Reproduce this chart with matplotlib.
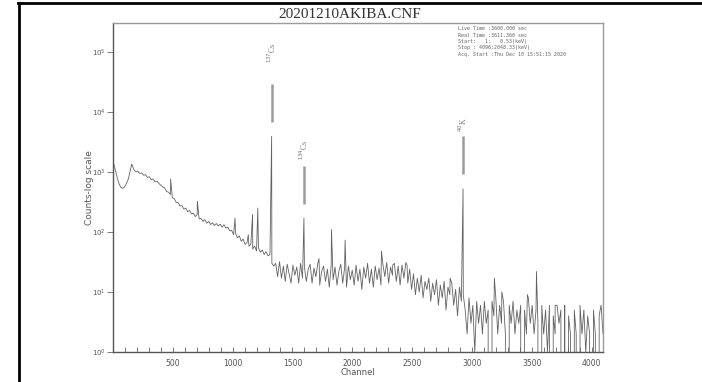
import numpy as np
import matplotlib
matplotlib.use("Agg")
import matplotlib.pyplot as plt
from matplotlib.lines import Line2D
from matplotlib.ticker import MultipleLocator, FixedLocator, NullFormatter

# ---------------- data ----------------
base_step = 16  # channel spacing of the baseline samples

# channels 0 .. 1344
start_low = 0
counts_low = [
    1500, 1150, 850, 650, 560, 530, 560, 640, 760, 1050, 1300,
    1080, 1000, 1030, 940, 960, 880, 900, 810, 830, 740,
    760, 680, 700, 640, 600, 560, 540, 470, 460, 420,
    370, 360, 310, 310, 270, 275, 240, 250, 218, 228,
    200, 205, 180, 195, 165, 168, 150, 160, 140, 150,
    133, 142, 128, 138, 126, 134, 120, 132, 116, 120,
    104, 106, 90, 96, 80, 86, 70, 76, 62, 66,
    58, 62, 52, 58, 48, 54, 46, 50, 42, 47,
    40, 42, 30, 27,
]
# channels 1360 .. 2480
start_mid = 1360
counts_mid = [
    30, 18, 32, 17, 27, 15, 29, 20, 14, 28,
    19, 26, 14, 30, 17, 26, 15, 24, 29, 14,
    25, 18, 30, 13, 22, 27, 15, 24, 12, 28,
    16, 26, 13, 22, 29, 14, 25, 12, 27, 16,
    23, 13, 28, 15, 24, 11, 26, 17, 30, 14,
    24, 12, 27, 16, 25, 13, 29, 18, 31, 14,
    26, 19, 30, 15, 27, 13, 28, 17, 31, 14,
    24,
]
# channels 2496 .. 2928
start_tail = 2496
counts_tail = [
    11, 20, 9, 17, 10, 19, 8, 15, 11, 17,
    7, 14, 9, 16, 6, 13, 8, 15, 5, 12,
    9, 14, 6, 11, 4, 12, 7, 9,
]
# channels 2944 .. 4096
start_high = 2944
counts_high = [
    5, 2, 8, 3, 6, 1, 7, 3, 6, 2,
    7, 3, 5, 0, 7, 4, 8, 2, 6, 3,
    7, 2, 0, 6, 3, 7, 2, 5, 3, 6,
    0, 5, 2, 8, 3, 6, 2, 5, 3, 0,
    6, 2, 5, 1, 6, 0, 4, 2, 6, 3,
    5, 0, 6, 0, 4, 2, 0, 5, 2, 0,
    6, 2, 5, 1, 4, 2, 0, 5, 2, 0,
    4, 6, 2,
]

peak_channels = [156, 482, 705, 1020, 1131, 1167, 1210, 1326, 1596, 1722,
                 1826, 1940, 2244, 2338, 2458, 2818, 2926, 3188, 3250,
                 3464, 3540, 3696, 4072]
peak_counts = [1340, 760, 325, 170, 90, 195, 250, 3900, 170, 36,
               110, 73, 48, 28, 28, 17, 520, 17, 10,
               9, 22, 6, 5]

nuclide_labels = ["$^{137}$Cs", "$^{134}$Cs", "$^{40}$K"]
nuclide_channels = [1326, 1596, 2926]

info_lines = [
    "Live Time :3600.000 sec",
    "Real Time :3611.360 sec",
    "Start:   1:   0.53(keV)",
    "Stop : 4096:2048.33(keV)",
    "Acq. Start :Thu Dec 10 15:51:15 2020",
]
title_text = "20201210AKIBA.CNF"
x_label = "Channel"
y_label = "Counts-log scale"
x_tick_values = [500, 1000, 1500, 2000, 2500, 3000, 3500, 4000]

# ---------------- build spectrum ----------------
segs = [(start_low, counts_low), (start_mid, counts_mid),
        (start_tail, counts_tail), (start_high, counts_high)]
ch_parts, cnt_parts = [], []
for s, c in segs:
    ch_parts.append(s + base_step * np.arange(len(c)))
    cnt_parts.append(np.array(c, float))
ch_parts.append(np.array(peak_channels))
cnt_parts.append(np.array(peak_counts, float))
ch = np.concatenate(ch_parts)
cnt = np.concatenate(cnt_parts)
order = np.argsort(ch, kind="stable")
ch = ch[order]
cnt = cnt[order]

# ---------------- figure ----------------
W, H = 702, 382
fig = plt.figure(figsize=(W / 100, H / 100), dpi=100)
fig.patch.set_facecolor("white")

ax = fig.add_axes([113 / W, 1 - 352 / H, (603 - 113) / W, (352 - 23) / H])
ax.plot(ch, cnt, color="#626262", lw=0.6)
ax.set_yscale("log", nonpositive="clip")
ax.set_xlim(0, 4096)
ax.set_ylim(1, 10 ** 5.48)

for side in ["top", "right"]:
    ax.spines[side].set_color("#9a9a9a")
    ax.spines[side].set_linewidth(1.0)
for side in ["left", "bottom"]:
    ax.spines[side].set_color("#555555")
    ax.spines[side].set_linewidth(1.0)

ax.xaxis.set_major_locator(FixedLocator(x_tick_values))
ax.xaxis.set_minor_locator(MultipleLocator(100))
ax.tick_params(axis="x", which="both", direction="in", length=3.5, width=0.6,
               color="#666666", labelsize=5.5, labelcolor="#555555", pad=5)
ax.yaxis.set_major_locator(FixedLocator([1, 10, 100, 1e3, 1e4, 1e5]))
ax.yaxis.set_minor_formatter(NullFormatter())
ax.tick_params(axis="y", which="minor", length=0)
ax.tick_params(axis="y", which="major", direction="out", length=4, width=0.6,
               color="#666666", labelsize=5, labelcolor="#555555", pad=1)

ax.set_xlabel(x_label, fontsize=6, color="#555555", labelpad=0)
ax.set_ylabel(y_label, fontsize=6.5, color="#555555", labelpad=-1)

# nuclide markers
label_factor = [25, 13.8, 11.6]
for lab, c, lf in zip(nuclide_labels, nuclide_channels, label_factor):
    pk = peak_counts[peak_channels.index(c)]
    ax.plot([c, c], [pk * 1.75, pk * 7.5], color="#9a9a9a", lw=1.8,
            solid_capstyle="butt")
    ax.text(c, pk * lf, lab, rotation=90, ha="center", va="center",
            fontsize=5.5, color="#777777", family="Liberation Serif")

# info box text
for i, line in enumerate(info_lines):
    fig.text(458 / W, 1 - (29 + i * 6.3) / H, line, fontsize=3.6,
             family="DejaVu Sans Mono", color="#666666", va="center", ha="left")

fig.text(350 / W, 1 - 14 / H, title_text, fontsize=11, family="Liberation Serif",
         color="#333333", ha="center", va="center")

# outer black frame (left and top edges)
fig.add_artist(Line2D([19 / W, 19 / W], [0, 1 - 2.5 / H], color="black", lw=2.0,
                      transform=fig.transFigure))
fig.add_artist(Line2D([18 / W, 1], [1 - 2.5 / H, 1 - 2.5 / H], color="black", lw=2.0,
                      transform=fig.transFigure))

fig.savefig("out.png", dpi=100, facecolor="white")
